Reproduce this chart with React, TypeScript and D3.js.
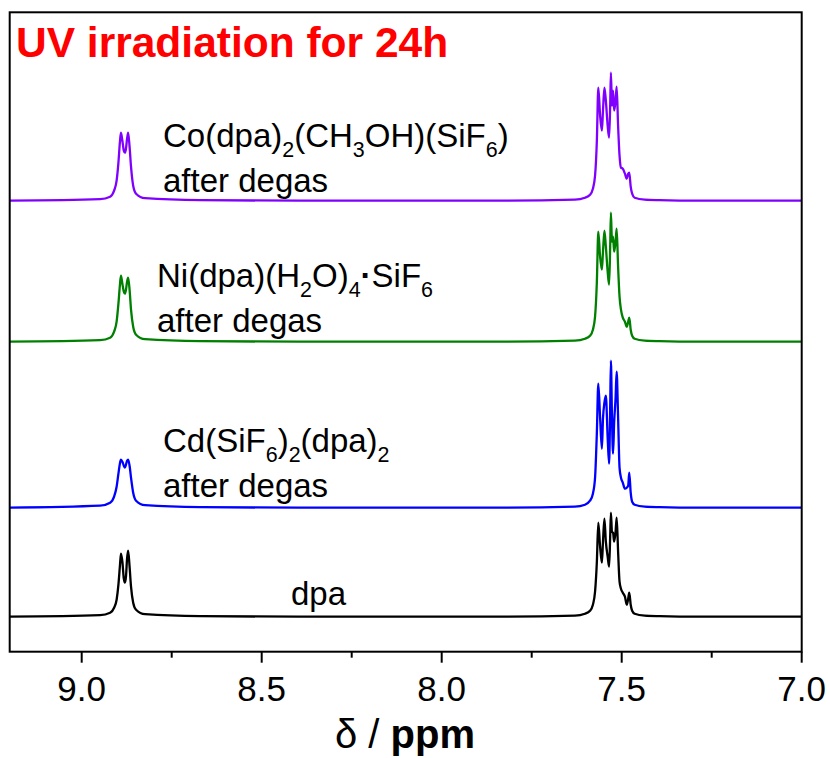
import React from "react";
import * as d3 from "d3";

// ---- data (ppm, intensity above each trace's baseline) ----
const majorTicks = [9.0, 8.5, 8.0, 7.5, 7.0];
const minorTicks = [8.75, 8.25, 7.75, 7.25];

const doubletPpm = [9.2, 8.949, 8.921, 8.91, 8.903, 8.898, 8.894, 8.891, 8.887, 8.883, 8.88, 8.877, 8.874, 8.871, 8.867, 8.863, 8.857, 8.849, 8.824, 8.671, 8.393, 7.838];
const multipletPpm = [7.63, 7.602, 7.588, 7.58, 7.574, 7.569, 7.565, 7.56, 7.555, 7.552, 7.548, 7.544, 7.539, 7.535, 7.532, 7.53, 7.527, 7.524, 7.521, 7.517, 7.514, 7.51, 7.506, 7.502, 7.497, 7.491, 7.486, 7.482, 7.479, 7.475, 7.471, 7.464, 7.436, 7.395, 7.284, 7.0];

const dpaDoublet = [0, 1.5, 4, 9, 17, 32, 50, 63, 55, 38, 34, 40, 58, 66, 50, 30, 14, 7, 2.5, 0.5, 0, 0];
const dpaMultiplet = [1, 3, 6, 12, 25, 55, 94, 70, 54, 75, 98, 75, 60, 50, 80, 104, 85, 84, 75, 85, 99, 65, 35, 28, 24, 20, 12, 18, 24, 12, 6, 3, 1, 0.5, 0, 0];

const cdDoublet = [0, 2, 5, 11, 21, 34, 44, 48, 46, 42, 40, 43, 47, 48, 42, 30, 15, 7, 2.5, 0.5, 0, 0];
const cdMultiplet = [1, 3, 7, 14, 30, 75, 124, 90, 59, 89, 105, 112, 70, 44, 100, 147, 90, 54, 85, 110, 136, 90, 40, 30, 25, 19, 20, 22, 35, 15, 6, 3, 1, 0.5, 0, 0];

const niDoublet = [0, 1.5, 4, 10, 20, 38, 56, 66, 58, 50, 48, 52, 60, 64, 52, 32, 15, 7, 2.5, 0.5, 0, 0];
const niMultiplet = [1, 3, 6, 12, 25, 60, 110, 85, 72, 90, 111, 95, 70, 57, 95, 129, 100, 105, 90, 100, 113, 75, 45, 32, 24, 20, 15, 20, 24, 12, 6, 3, 1, 0.5, 0, 0];

const coDoublet = [0, 1.5, 4, 10, 20, 38, 58, 68, 60, 50, 48, 52, 62, 68, 54, 34, 15, 7, 2.5, 0.5, 0, 0];
const coMultiplet = [1, 3, 6, 12, 25, 60, 113, 85, 70, 90, 113, 100, 75, 63, 95, 128, 95, 110, 90, 100, 114, 75, 45, 33, 32, 27, 22, 27, 28, 14, 7, 3, 1, 0.5, 0, 0];

const traceOffsets = [35, 144, 310, 451];
const traceColors = ["#000000", "#0000FF", "#008000", "#8000FF"];

const FONT = "'Liberation Sans', Arial, Helvetica, sans-serif";

type Seg = { t: string; sub?: boolean; bold?: boolean };

function Label({ x, y, segs, size }: { x: number; y: number; segs: Seg[]; size: number }) {
  const subSize = size * 0.65;
  const shift = size * 0.3;
  let cur = 0;
  const spans: React.ReactNode[] = [];
  segs.forEach((s, i) => {
    const target = s.sub ? shift : 0;
    const dy = target - cur;
    cur = target;
    spans.push(
      <tspan key={i} dy={dy} fontSize={s.sub ? subSize : size} fontWeight={s.bold ? "bold" : "normal"}>
        {s.t}
      </tspan>
    );
  });
  return (
    <text x={x} y={y} fontFamily={FONT} fontSize={size} fill="#000">
      {spans}
    </text>
  );
}

export default function App() {
  const left = 9.7, right = 801.7, top = 12.3, bottom = 651.7;
  const x = d3.scaleLinear().domain([9.2, 7.0]).range([left, right]);
  const y = d3.scaleLinear().domain([0, 640]).range([bottom, bottom - 640]);

  const traces = [
    [dpaDoublet, dpaMultiplet],
    [cdDoublet, cdMultiplet],
    [niDoublet, niMultiplet],
    [coDoublet, coMultiplet],
  ];

  const line = d3
    .line<[number, number]>()
    .x((d) => x(d[0]))
    .y((d) => y(d[1]))
    .curve(d3.curveMonotoneX);

  const paths = traces.map(([dbl, mult], i) => {
    const pts: [number, number][] = [];
    doubletPpm.forEach((p, k) => pts.push([p, dbl[k] + traceOffsets[i]]));
    multipletPpm.forEach((p, k) => pts.push([p, mult[k] + traceOffsets[i]]));
    pts.sort((a, b) => b[0] - a[0]);
    return line(pts) || "";
  });

  const labelSize = 33;
  const gap = 45;

  return (
    <svg
      width={830}
      height={758}
      style={{ position: "absolute", left: 0, top: 0, background: "#fff" }}
    >
      <rect x={0} y={0} width={830} height={758} fill="#fff" />
      {paths.map((d, i) => (
        <path key={i} d={d} fill="none" stroke={traceColors[i]} strokeWidth={2.3} strokeLinejoin="round" />
      ))}

      {/* frame */}
      <rect x={left} y={top} width={right - left} height={bottom - top} fill="none" stroke="#000" strokeWidth={2} />

      {/* ticks */}
      {majorTicks.map((t) => (
        <g key={t}>
          <line x1={x(t)} x2={x(t)} y1={bottom} y2={bottom + 11} stroke="#000" strokeWidth={2} />
          <text x={x(t)} y={701} textAnchor="middle" fontFamily={FONT} fontSize={35} fill="#000">
            {t.toFixed(1)}
          </text>
        </g>
      ))}
      {minorTicks.map((t) => (
        <line key={t} x1={x(t)} x2={x(t)} y1={bottom} y2={bottom + 6} stroke="#000" strokeWidth={2} />
      ))}

      {/* axis title */}
      <text x={405} y={748} textAnchor="middle" fontFamily={FONT} fontSize={40} fill="#000">
        <tspan>δ / </tspan>
        <tspan fontWeight="bold">ppm</tspan>
      </text>

      {/* title */}
      <text x={16} y={57} fontFamily={FONT} fontSize={42.5} fontWeight="bold" fill="#FF0000">
        UV irradiation for 24h
      </text>

      {/* labels */}
      <Label
        x={163}
        y={147}
        size={labelSize}
        segs={[
          { t: "Co(dpa)" },
          { t: "2", sub: true },
          { t: "(CH" },
          { t: "3", sub: true },
          { t: "OH)(SiF" },
          { t: "6", sub: true },
          { t: ")" },
        ]}
      />
      <Label x={163} y={147 + gap} size={labelSize} segs={[{ t: "after degas" }]} />

      <Label
        x={157}
        y={287}
        size={labelSize}
        segs={[
          { t: "Ni(dpa)(H" },
          { t: "2", sub: true },
          { t: "O)" },
          { t: "4", sub: true },
          { t: "·", bold: true },
          { t: "SiF" },
          { t: "6", sub: true },
        ]}
      />
      <Label x={157} y={287 + gap} size={labelSize} segs={[{ t: "after degas" }]} />

      <Label
        x={163}
        y={452}
        size={labelSize}
        segs={[
          { t: "Cd(SiF" },
          { t: "6", sub: true },
          { t: ")" },
          { t: "2", sub: true },
          { t: "(dpa)" },
          { t: "2", sub: true },
        ]}
      />
      <Label x={163} y={452 + gap} size={labelSize} segs={[{ t: "after degas" }]} />

      <Label x={291} y={605} size={labelSize} segs={[{ t: "dpa" }]} />
    </svg>
  );
}
